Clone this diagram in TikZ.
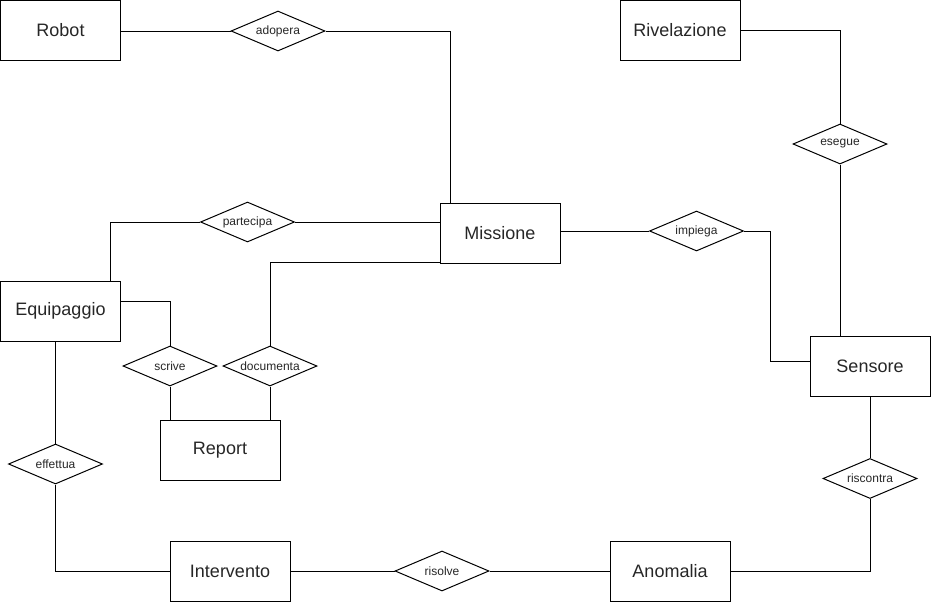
\documentclass[tikz,border=0pt]{standalone}
\usepackage{fontspec}
\setmainfont{Liberation Sans}
\usetikzlibrary{shapes.geometric}
\begin{document}
\begin{tikzpicture}[x=1pt,y=-1pt,line width=1pt,
  entity/.style={draw,rectangle,minimum width=120pt,minimum height=60pt,inner sep=0pt,font=\fontsize{18}{20}\selectfont,text=black!85},
  rel/.style={draw,diamond,aspect=2.35,minimum width=94pt,minimum height=40pt,inner sep=0pt,font=\fontsize{12}{14}\selectfont,text=black!85},
  link/.style={draw,line width=1pt}]
\useasboundingbox (0,0) rectangle (931,603);
% entities
\node[entity] (robot) at (60.5,30.5) {Robot};
\node[entity] (rivelazione) at (680,30.5) {Rivelazione};
\node[entity] (missione) at (500,233) {Missione};
\node[entity] (equip) at (60.5,311) {Equipaggio};
\node[entity] (report) at (220,450.5) {Report};
\node[entity] (sensore) at (870,366) {Sensore};
\node[entity] (intervento) at (230,571) {Intervento};
\node[entity] (anomalia) at (670,571) {Anomalia};
% relationships
\node[rel] (adopera) at (278,31) {adopera};
\node[rel] (esegue) at (840,144) {esegue};
\node[rel] (partecipa) at (247.5,222) {partecipa};
\node[rel] (impiega) at (696.5,231) {impiega};
\node[rel] (scrive) at (170,366) {scrive};
\node[rel] (documenta) at (270,366) {documenta};
\node[rel] (effettua) at (55.5,464) {effettua};
\node[rel] (riscontra) at (870,478.5) {riscontra};
\node[rel] (risolve) at (442,571) {risolve};
% connectors
\draw[link] (adopera.west) -- (adopera.west -| robot.east);
\draw[link] (adopera.east) -| ([xshift=-50pt]missione.north);
\draw[link] (partecipa.east) -- (partecipa.east -| missione.west);
\draw[link] (partecipa.west) -| ([xshift=49.5pt]equip.north);
\draw[link] ([yshift=-29pt]missione.west) -| (documenta.north);
\draw[link] ([yshift=9.3pt]equip.east) -| (scrive.north);
\draw[link] (scrive.south) -- (scrive.south |- report.north);
\draw[link] (documenta.south) -- (documenta.south |- report.north);
\draw[link] (effettua.north) -- (effettua.north |- equip.south);
\draw[link] (effettua.south) |- (intervento.west);
\draw[link] (intervento.east) -- (risolve.west);
\draw[link] (risolve.east) -- (anomalia.west);
\draw[link] (anomalia.east) -| (riscontra.south);
\draw[link] (riscontra.north) -- (sensore.south);
\draw[link] (impiega.west) -- (impiega.west -| missione.east);
\coordinate (bend) at (770,231);
\draw[link] (impiega.east) -- (bend) |- ([yshift=5pt]sensore.west);
\draw[link] (rivelazione.east) -| (esegue.north);
\draw[link] (esegue.south) -- (esegue.south |- sensore.north);
\end{tikzpicture}
\end{document}
